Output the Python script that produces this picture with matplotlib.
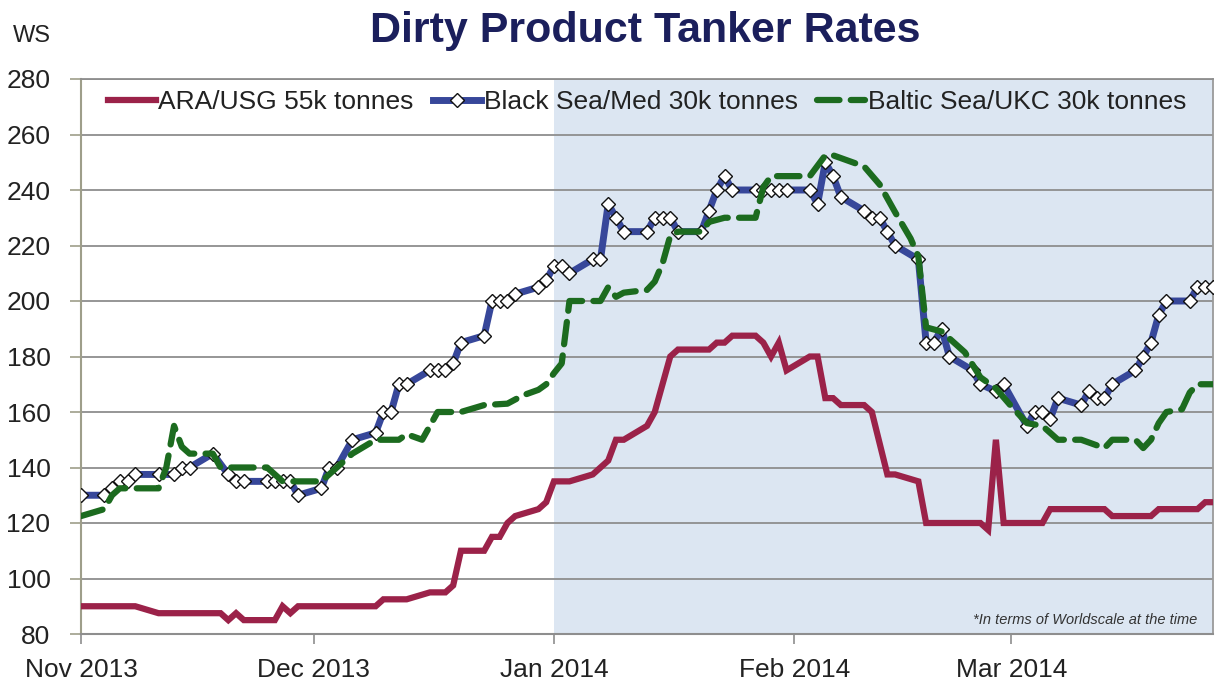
import matplotlib
matplotlib.use('Agg')
import matplotlib.pyplot as plt
import numpy as np

plt.rcParams['font.family'] = ['Liberation Sans', 'DejaVu Sans']

start = np.datetime64('2013-11-01')
end_day = 146

# day offsets from 1 Nov 2013, values in WS
ara_days = [0, 7, 10, 18, 19, 20, 21, 25, 26, 27, 28, 38, 39, 42, 45, 47, 48, 49, 52, 53, 54, 55, 56,
            59, 60, 61, 63, 66, 67, 68, 69, 70, 73, 74, 76, 77, 81, 82, 83, 84, 87, 88, 89, 90, 91,
            94, 95, 96, 97, 98, 101, 102, 104, 105, 108, 109, 116, 117, 118, 119, 124, 125, 132,
            133, 138, 139, 144, 145, 146]
ara_ws = [90, 90, 87.5, 87.5, 85, 87.5, 85, 85, 90, 87.5, 90, 90, 92.5, 92.5, 95, 95, 97.5, 110, 110,
          115, 115, 120, 122.5, 125, 127.5, 135, 135, 137.5, 140, 142.5, 150, 150, 155, 160, 180,
          182.5, 182.5, 185, 185, 187.5, 187.5, 185, 180, 185, 175, 180, 180, 165, 165, 162.5,
          162.5, 160, 137.5, 137.5, 135, 120, 120, 117.5, 150, 120, 120, 125, 125, 122.5, 122.5,
          125, 125, 127.5, 127.5]

bsea_days = [0, 3, 4, 5, 6, 7, 10, 12, 13, 14, 17, 19, 20, 21, 24, 25, 26, 27, 28, 31, 32, 33, 35,
             38, 39, 40, 41, 42, 45, 46, 47, 48, 49, 52, 53, 54, 55, 56, 59, 60, 61, 62, 63, 66, 67,
             68, 69, 70, 73, 74, 75, 76, 77, 80, 81, 82, 83, 84, 87, 88, 89, 90, 91, 94, 95, 96, 97,
             98, 101, 102, 103, 104, 105, 108, 109, 110, 111, 112, 115, 116, 118, 119, 122, 123,
             124, 125, 126, 129, 130, 131, 132, 133, 136, 137, 138, 139, 140, 143, 144, 145, 146]
bsea_ws = [130, 130, 132.5, 135, 135, 137.5, 137.5, 137.5, 140, 140, 145, 137.5, 135, 135, 135, 135,
           135, 135, 130, 132.5, 140, 140, 150, 152.5, 160, 160, 170, 170, 175, 175, 175, 177.5,
           185, 187.5, 200, 200, 200, 202.5, 205, 207.5, 212.5, 212.5, 210, 215, 215, 235, 230,
           225, 225, 230, 230, 230, 225, 225, 232.5, 240, 245, 240, 240, 240, 240, 240, 240, 240,
           235, 250, 245, 237.5, 232.5, 230, 230, 225, 220, 215, 185, 185, 190, 180, 175, 170,
           167.5, 170, 155, 160, 160, 157.5, 165, 162.5, 167.5, 165, 165, 170, 175, 180, 185, 195,
           200, 200, 205, 205, 205]

baltic_days = [0, 3, 4, 5, 10, 11, 12, 13, 14, 17, 18, 24, 26, 31, 33, 35, 38, 41, 42, 44, 46, 49,
               52, 55, 57, 59, 60, 61, 62, 63, 67, 68, 69, 70, 73, 74, 75, 76, 77, 80, 81, 83, 87,
               88, 89, 94, 96, 97, 101, 103, 105, 107, 108, 109, 111, 114, 116, 118, 120, 122, 124,
               125, 126, 129, 132, 133, 136, 137, 138, 139, 140, 142, 143, 144, 146]
baltic_ws = [122.5, 125, 130, 132.5, 132.5, 140, 155, 147.5, 145, 145, 140, 140, 135, 135, 140, 145,
             150, 150, 152, 150, 160, 160, 162.5, 163, 166, 168, 170, 174, 177.5, 200, 200, 205,
             201.5, 203, 204, 207, 213.5, 223.5, 225, 225, 228.5, 230, 230, 241, 245, 245, 252.5,
             252.5, 248.5, 242, 232, 222.5, 216, 190.5, 189, 181.5, 172.5, 168.5, 162, 156, 155,
             152.5, 150, 150, 147, 150, 150, 147, 150, 156, 160, 161, 167, 170, 170]

month_ticks = ['2013-11-01', '2013-12-01', '2014-01-01', '2014-02-01', '2014-03-01']
month_labels = ['Nov 2013', 'Dec 2013', 'Jan 2014', 'Feb 2014', 'Mar 2014']


def to_dates(days):
    return start + np.array(days, dtype='timedelta64[D]')


fig = plt.figure(figsize=(12.16, 6.86), dpi=100)
ax = fig.add_axes([81 / 1216, 1 - 634 / 686, 1132 / 1216, 555 / 686])

ax.axvspan(np.datetime64('2014-01-01'), start + np.timedelta64(end_day, 'D'),
           color='#dce6f2', zorder=0, lw=0)

ax.plot(to_dates(ara_days), ara_ws, color='#9b2249', lw=4.5, solid_joinstyle='miter',
        label='ARA/USG 55k tonnes', zorder=3)
ax.plot(to_dates(bsea_days), bsea_ws, color='#37479a', lw=5, marker='D', markersize=7.2,
        markerfacecolor='white', markeredgecolor='#111111', markeredgewidth=1.0,
        label='Black Sea/Med 30k tonnes', zorder=4)
ax.plot(to_dates(baltic_days), baltic_ws, color='#1c6b1f', lw=4.5, dashes=(3.6, 1.8),
        dash_capstyle='round', label='Baltic Sea/UKC 30k tonnes', zorder=5)

ax.set_xlim(start, start + np.timedelta64(end_day, 'D'))
ax.set_ylim(80, 280)
ax.set_yticks(range(80, 281, 20))
ax.set_xticks([np.datetime64(d) for d in month_ticks])
ax.set_xticklabels(month_labels)

ax.yaxis.grid(True, color='#8e8e8e', lw=1.3)
ax.set_axisbelow(True)
ax.tick_params(axis='both', labelsize=19, colors='#222222', length=7, width=1.2)
ax.tick_params(axis='x', pad=10, color='#8e8e8e')
ax.tick_params(axis='y', pad=14, length=8, color='#9e9e8a')

ax.spines['left'].set_color('#9e9e8a')
ax.spines['left'].set_linewidth(1.5)
ax.spines['bottom'].set_color('#8e8e8e')
ax.spines['bottom'].set_linewidth(1.5)
ax.spines['right'].set_color('#9a9a9a')
ax.spines['right'].set_linewidth(1.3)
ax.spines['top'].set_color('#8e8e8e')
ax.spines['top'].set_linewidth(1.3)

ax.legend(loc='upper left', bbox_to_anchor=(0.024, 0.98), ncol=3, frameon=False, fontsize=19,
          handlelength=1.8, handletextpad=0.1, columnspacing=0.75, borderaxespad=0, borderpad=0,
          labelcolor='#222222')

ax.text(0.986, 0.012, '*In terms of Worldscale at the time', transform=ax.transAxes,
        ha='right', va='bottom', fontsize=10.5, style='italic', color='#333333')

fig.text(645 / 1216, 1 - 31 / 686, 'Dirty Product Tanker Rates', ha='center', va='center',
         fontsize=31, fontweight='bold', color='#1b1f5c')
fig.text(32 / 1216, 1 - 36 / 686, 'WS', ha='center', va='center', fontsize=17, color='#222222')

fig.savefig('out.png', dpi=100)
